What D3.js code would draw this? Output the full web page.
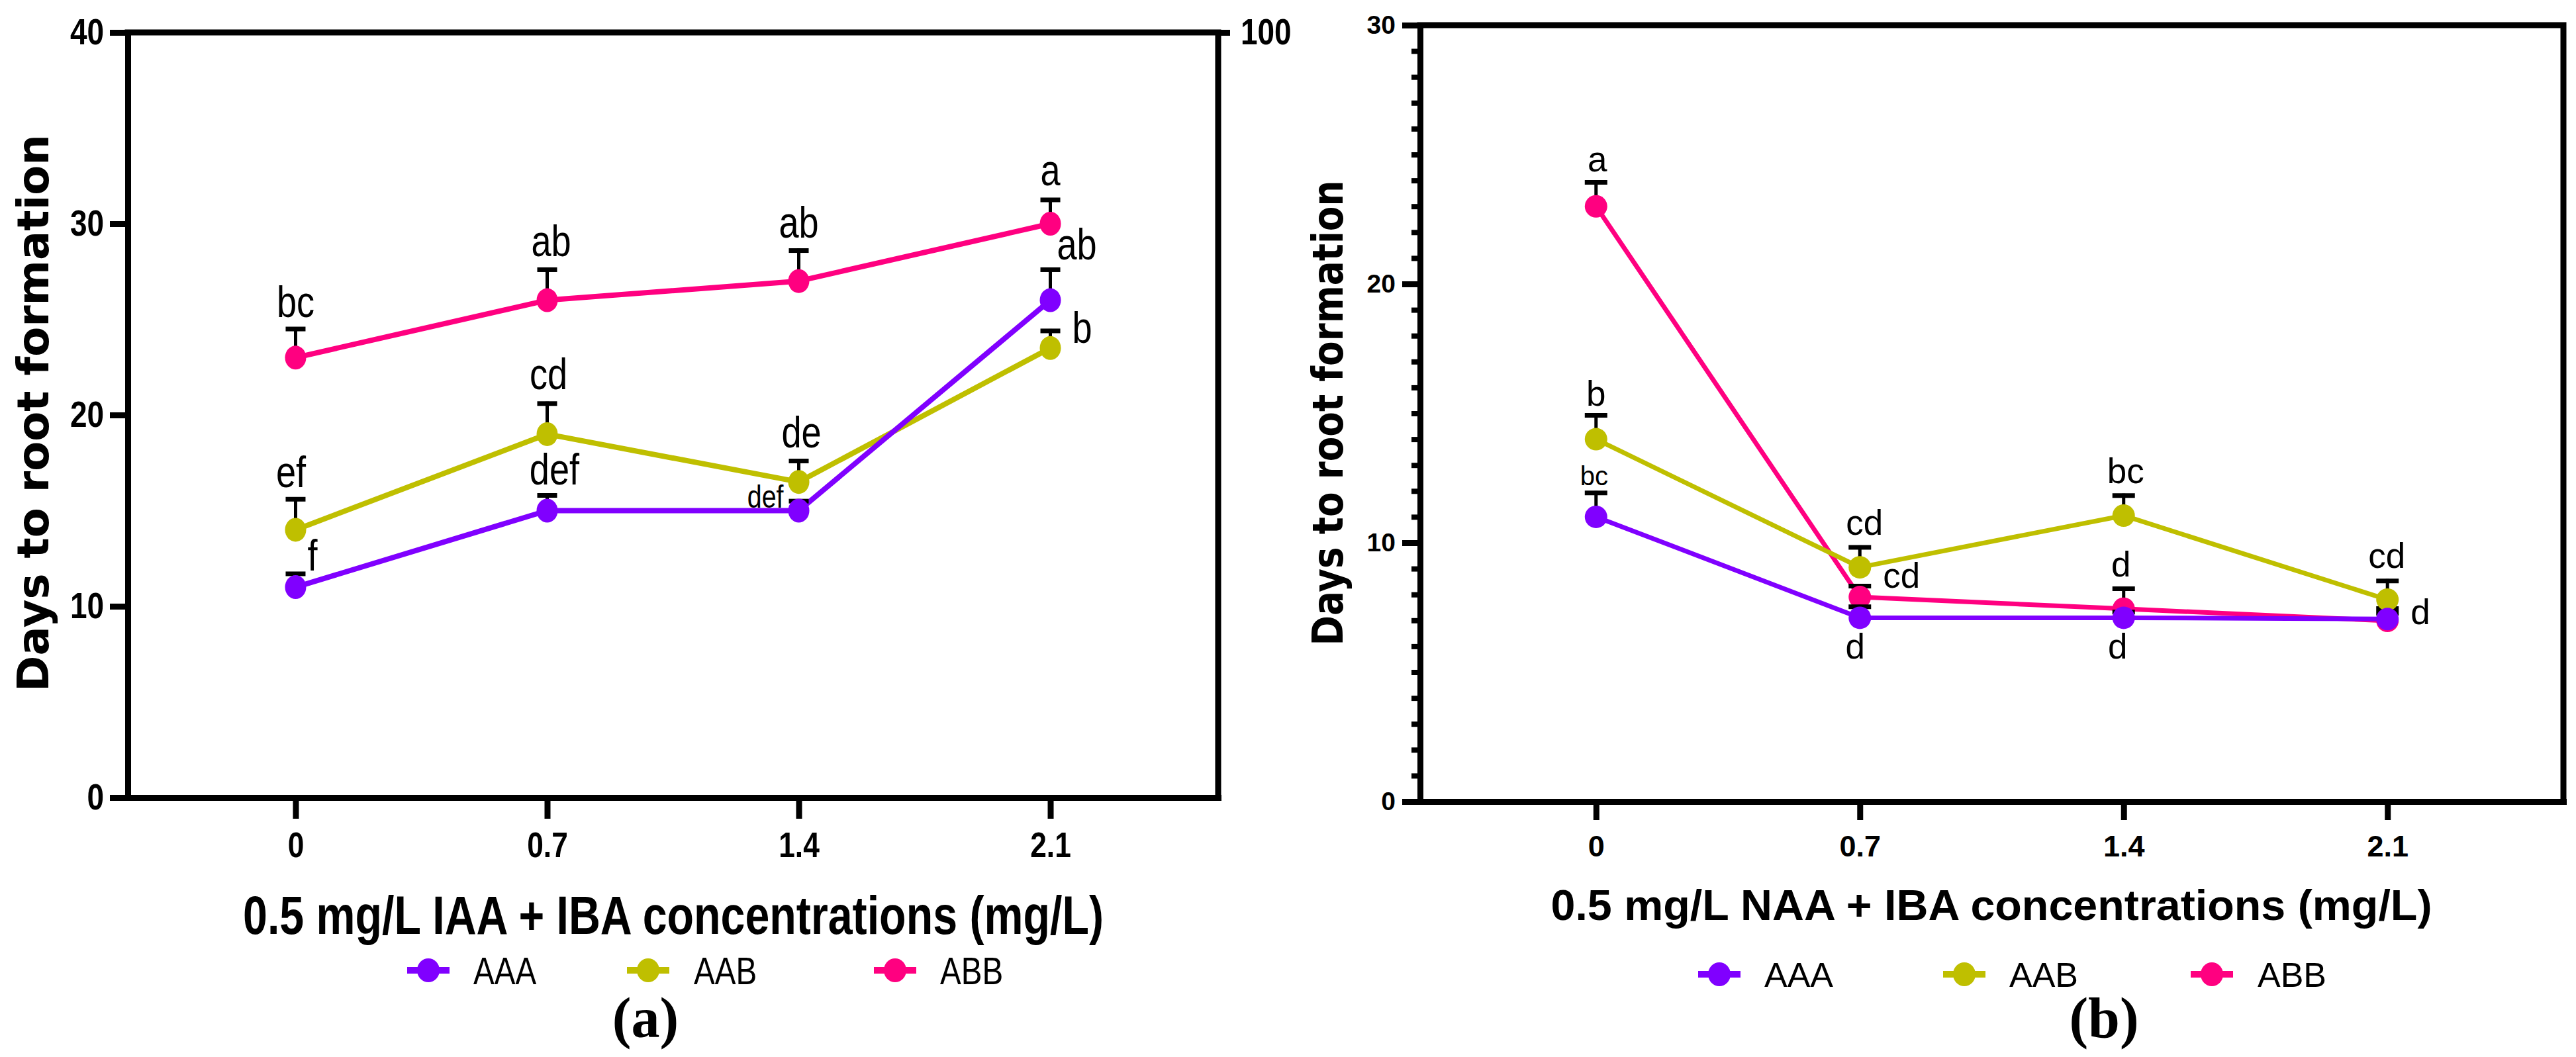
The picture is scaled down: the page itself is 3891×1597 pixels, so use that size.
<!DOCTYPE html>
<html>
<head>
<meta charset="utf-8">
<script src="https://cdn.jsdelivr.net/npm/d3@7"></script>
<style>
  body { margin: 0; background: #fff; }
  svg { display: block; background: #fff; }
</style>
</head>
<body>
<svg id="chart"></svg>
<script>
// categories
const doses = ["0", "0.7", "1.4", "2.1"];
const groups = ["AAA", "AAB", "ABB"];
const colors = { AAA: "#8000ff", AAB: "#bfbf00", ABB: "#ff0080" };

// (a) 0.5 mg/L IAA + IBA
const iaaAAA = [11, 15, 15, 26];
const iaaAAAErr = [0.8, 0.9, 0.6, 1.7];
const iaaAAB = [14, 19, 16.5, 23.5];
const iaaAABErr = [1.7, 1.7, 1.2, 1.0];
const iaaABB = [23, 26, 27, 30];
const iaaABBErr = [1.6, 1.7, 1.7, 1.35];
const iaaAAALetters = ["f", "def", "def", "ab"];
const iaaAABLetters = ["ef", "cd", "de", "b"];
const iaaABBLetters = ["bc", "ab", "ab", "a"];

// (b) 0.5 mg/L NAA + IBA
const naaAAA = [11, 7.1, 7.1, 7.05];
const naaAAAErr = [1.0, 0.5, 0.3, 0.3];
const naaAAB = [14, 9.05, 11.05, 7.8];
const naaAABErr = [1.0, 0.85, 0.85, 0.8];
const naaABB = [23, 7.9, 7.45, 6.98];
const naaABBErr = [1.0, 0.5, 0.85, 0.55];
const naaAAALetters = ["bc", "d", "d", ""];
const naaAABLetters = ["b", "cd", "bc", "cd"];
const naaABBLetters = ["a", "cd", "d", "d"];

// tick labels
const yTicksA = [0, 10, 20, 30, 40];
const yTicksB = [0, 10, 20, 30];
const yRightTicksA = [100];

// letter placement relative to the error cap: dx, dy, anchor, font size (optional)
const iaaLetterPos = {
    AAA: [[18, -2, "start"], [11, -13, "middle"], [-23, 13, "end", 48], [10, -12, "start"]],
    AAB: [[-7, -15, "middle"], [2, -19, "middle"], [4, -17, "middle"], [33, 21, "start"]],
    ABB: [[0, -15, "middle"], [6, -17, "middle"], [0, -17, "middle"], [0, -19, "middle"]]
};
const naaLetterPos = {
    AAA: [[-3, -9, "middle", 40], [-7, 81, "middle"], [-9, 73, "middle"], [0, 0, "middle"]],
    AAB: [[0, -12, "middle"], [7, -16, "middle"], [3, -16, "middle"], [-1, -17, "middle"]],
    ABB: [[2, -14, "middle"], [35, 5, "start"], [-4, -15, "middle"], [35, 26, "start"]]
};

const W = 3891, H = 1597;
const svg = d3.select("#chart").attr("width", W).attr("height", H);

const SANS = "'Liberation Sans', Arial, sans-serif";

// squeeze text horizontally to mimic a narrow face
function condense(sel, k) {
    sel.each(function () {
        const len = this.getComputedTextLength();
        if (len > 0) {
            d3.select(this).attr("textLength", len * k).attr("lengthAdjust", "spacingAndGlyphs");
        }
    });
}

function drawPanel(p) {
    const g = svg.append("g");

    const x = d3.scalePoint().domain(doses).range([p.left, p.right]).padding(0.667);
    const y = d3.scaleLinear().domain([0, p.yMax]).range([p.bottom, p.top]);

    // frame top + right
    g.append("path")
        .attr("d", `M${p.left},${p.top}H${p.right}V${p.bottom}`)
        .attr("fill", "none").attr("stroke", "#000")
        .attr("stroke-width", 9).attr("stroke-linecap", "square");

    // minor y ticks
    if (p.minorTicks) {
        const minors = d3.range(0, p.yMax + 1).filter(v => v % 10 !== 0);
        const gm = g.append("g")
            .attr("transform", `translate(${p.left},0)`)
            .call(d3.axisLeft(y).tickValues(minors).tickSize(13).tickFormat(""));
        gm.select(".domain").remove();
        gm.selectAll(".tick line").attr("stroke-width", 8);
    }

    // y axis
    const gy = g.append("g")
        .attr("transform", `translate(${p.left},0)`)
        .call(d3.axisLeft(y).tickValues(p.yTicks).tickSize(27).tickSizeOuter(0)
            .tickPadding(p.yPad).tickFormat(d3.format("d")));
    gy.select(".domain").attr("stroke-width", 9).attr("stroke-linecap", "square");
    gy.selectAll(".tick line").attr("stroke-width", 9);
    gy.selectAll(".tick text")
        .attr("font-family", SANS).attr("font-weight", "bold")
        .attr("font-size", p.yTickSize).attr("fill", "#000");
    if (p.narrow) condense(gy.selectAll(".tick text"), 0.82);

    // right axis (panel a only)
    if (p.rightTicks) {
        const y2 = d3.scaleLinear().domain([0, 100]).range([p.bottom, p.top]);
        const gr = g.append("g")
            .attr("transform", `translate(${p.right},0)`)
            .call(d3.axisRight(y2).tickValues(p.rightTicks).tickSize(18).tickPadding(16));
        gr.select(".domain").remove();
        gr.selectAll(".tick line").attr("stroke-width", 9);
        gr.selectAll(".tick text")
            .attr("font-family", SANS).attr("font-weight", "bold")
            .attr("font-size", p.yTickSize).attr("fill", "#000");
        if (p.narrow) condense(gr.selectAll(".tick text"), 0.82);
    }

    // x axis
    const gx = g.append("g")
        .attr("transform", `translate(0,${p.bottom})`)
        .call(d3.axisBottom(x).tickSize(p.xTickLen).tickSizeOuter(0));
    gx.select(".domain").attr("stroke-width", 9).attr("stroke-linecap", "square");
    gx.selectAll(".tick line").attr("stroke-width", 9);
    gx.selectAll(".tick text")
        .attr("y", p.xLabelBase - p.bottom).attr("dy", 0)
        .attr("font-family", SANS).attr("font-weight", "bold")
        .attr("font-size", p.xTickSize).attr("fill", "#000");
    if (p.narrow) condense(gx.selectAll(".tick text"), 0.82);

    // series: ABB first so AAA sits on top
    const line = d3.line().x(d => x(d.dose)).y(d => y(d.v));
    const labels = [];
    p.series.forEach(s => {
        const pts = doses.map((dose, i) => ({
            dose, v: s.values[i], e: s.errs[i], t: s.letters[i], pos: s.pos[i]
        }));
        const gs = g.append("g");
        gs.append("path").datum(pts)
            .attr("d", line).attr("fill", "none")
            .attr("stroke", colors[s.name]).attr("stroke-width", p.lineW)
            .attr("stroke-linejoin", "round");
        gs.selectAll(".stem").data(pts).enter().append("line")
            .attr("x1", d => x(d.dose)).attr("x2", d => x(d.dose))
            .attr("y1", d => y(d.v)).attr("y2", d => y(d.v + d.e))
            .attr("stroke", "#000").attr("stroke-width", 5);
        gs.selectAll(".cap").data(pts).enter().append("line")
            .attr("x1", d => x(d.dose) - p.capW / 2).attr("x2", d => x(d.dose) + p.capW / 2)
            .attr("y1", d => y(d.v + d.e) + 3).attr("y2", d => y(d.v + d.e) + 3)
            .attr("stroke", "#000").attr("stroke-width", 7);
        gs.selectAll(".dot").data(pts).enter().append("ellipse")
            .attr("cx", d => x(d.dose)).attr("cy", d => y(d.v))
            .attr("rx", p.rx).attr("ry", p.ry)
            .attr("fill", colors[s.name]);
        pts.forEach(d => labels.push(d));
    });

    const gl = g.append("g");
    const lt = gl.selectAll("text").data(labels.filter(d => d.t)).enter().append("text")
        .attr("x", d => x(d.dose) + d.pos[0])
        .attr("y", d => y(d.v + d.e) + d.pos[1])
        .attr("text-anchor", d => d.pos[2])
        .attr("font-family", SANS)
        .attr("font-size", d => d.pos[3] || p.letterSize)
        .attr("fill", "#000")
        .text(d => d.t);
    if (p.narrow) condense(lt, 0.82);

    // axis titles
    g.append("text")
        .attr("transform", `translate(${p.yTitleX},${p.yTitleY}) rotate(-90)`)
        .attr("text-anchor", "middle")
        .attr("font-family", "'DejaVu Sans', Verdana, sans-serif")
        .attr("font-weight", "bold").attr("font-size", p.yTitleSize)
        .attr("textLength", p.yTitleLen).attr("lengthAdjust", "spacingAndGlyphs")
        .text("Days to root formation");

    g.append("text")
        .attr("x", p.xTitleX).attr("y", p.xTitleY)
        .attr("text-anchor", "middle")
        .attr("font-family", SANS).attr("font-weight", "bold")
        .attr("font-size", p.xTitleSize)
        .attr("textLength", p.xTitleLen).attr("lengthAdjust", "spacingAndGlyphs")
        .text(p.xTitle);

    // legend
    const lg = g.append("g");
    groups.forEach((name, i) => {
        const mx = p.legend.markX[i];
        lg.append("line")
            .attr("x1", mx - 32).attr("x2", mx + 32)
            .attr("y1", p.legend.y).attr("y2", p.legend.y)
            .attr("stroke", colors[name]).attr("stroke-width", 10);
        lg.append("ellipse")
            .attr("cx", mx).attr("cy", p.legend.y)
            .attr("rx", 17).attr("ry", 18)
            .attr("fill", colors[name]);
        const t = lg.append("text")
            .attr("x", p.legend.textX[i]).attr("y", p.legend.y).attr("dy", "0.36em")
            .attr("font-family", SANS).attr("font-size", p.legend.size)
            .attr("fill", "#000")
            .text(name);
        if (p.narrow) condense(t, 0.82);
    });

    // panel tag
    g.append("text")
        .attr("x", p.tagX).attr("y", p.tagY)
        .attr("text-anchor", "middle")
        .attr("font-family", "'Liberation Serif', 'Times New Roman', serif")
        .attr("font-weight", "bold").attr("font-size", 86)
        .text(p.tag);
}

drawPanel({
    left: 193, right: 1840, top: 49, bottom: 1205, yMax: 40,
    yTicks: yTicksA, rightTicks: yRightTicksA, minorTicks: false,
    narrow: true, yPad: 9, yTickSize: 56,
    xTickLen: 32, xLabelBase: 1295, xTickSize: 54,
    lineW: 8, capW: 30, rx: 16, ry: 18, letterSize: 66,
    series: [
        { name: "ABB", values: iaaABB, errs: iaaABBErr, letters: iaaABBLetters, pos: iaaLetterPos.ABB },
        { name: "AAB", values: iaaAAB, errs: iaaAABErr, letters: iaaAABLetters, pos: iaaLetterPos.AAB },
        { name: "AAA", values: iaaAAA, errs: iaaAAAErr, letters: iaaAAALetters, pos: iaaLetterPos.AAA }
    ],
    yTitleX: 73, yTitleY: 624, yTitleSize: 66, yTitleLen: 842,
    xTitle: "0.5 mg/L IAA + IBA concentrations (mg/L)",
    xTitleX: 1017, xTitleY: 1411, xTitleSize: 82, xTitleLen: 1300,
    legend: { y: 1466, markX: [647, 979, 1352], textX: [715, 1048, 1420], size: 58 },
    tag: "(a)", tagX: 975, tagY: 1567
});

drawPanel({
    left: 2145, right: 3872, top: 38, bottom: 1211, yMax: 30,
    yTicks: yTicksB, rightTicks: null, minorTicks: true,
    narrow: false, yPad: 10, yTickSize: 39,
    xTickLen: 28, xLabelBase: 1294, xTickSize: 45,
    lineW: 7, capW: 34, rx: 17, ry: 17, letterSize: 53,
    series: [
        { name: "ABB", values: naaABB, errs: naaABBErr, letters: naaABBLetters, pos: naaLetterPos.ABB },
        { name: "AAB", values: naaAAB, errs: naaAABErr, letters: naaAABLetters, pos: naaLetterPos.AAB },
        { name: "AAA", values: naaAAA, errs: naaAAAErr, letters: naaAAALetters, pos: naaLetterPos.AAA }
    ],
    yTitleX: 2028, yTitleY: 624, yTitleSize: 64, yTitleLen: 703,
    xTitle: "0.5 mg/L NAA + IBA concentrations (mg/L)",
    xTitleX: 3008, xTitleY: 1390, xTitleSize: 64, xTitleLen: 1331,
    legend: { y: 1472, markX: [2597, 2967, 3341], textX: [2665, 3035, 3410], size: 52 },
    tag: "(b)", tagX: 3178, tagY: 1567
});
</script>
</body>
</html>
